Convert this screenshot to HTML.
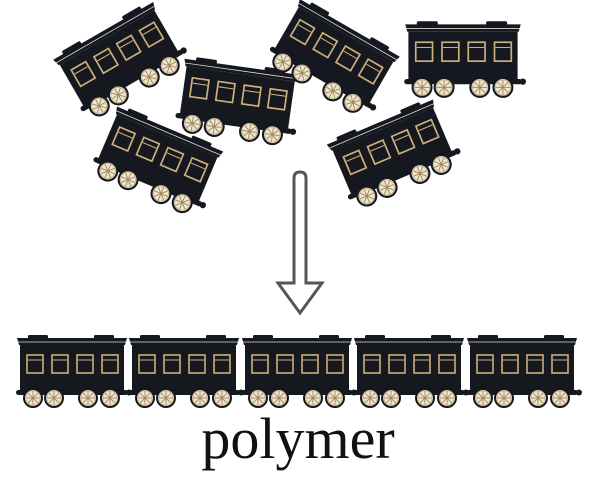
<!DOCTYPE html>
<html><head><style>html,body{margin:0;padding:0;background:#fff}svg{display:block}</style></head><body>
<svg width="600" height="479" viewBox="0 0 600 479" xmlns="http://www.w3.org/2000/svg">
<defs>
<g id="wh">
<circle r="9" fill="#efe6d0" stroke="#15181e" stroke-width="2"/>
<g stroke="#a08660" stroke-width="0.9">
<line x1="-7.5" y1="0" x2="7.5" y2="0"/><line x1="0" y1="-7.5" x2="0" y2="7.5"/>
<line x1="-5.3" y1="-5.3" x2="5.3" y2="5.3"/><line x1="-5.3" y1="5.3" x2="5.3" y2="-5.3"/>
</g>
<circle r="7.2" fill="none" stroke="#c9b085" stroke-width="0.8"/>
</g>
<g id="win"><rect x="0" y="0" width="16" height="18" fill="none" stroke="#cdb07c" stroke-width="1.6"/><line x1="1" y1="5" x2="15" y2="5" stroke="#cdb07c" stroke-width="1"/></g>
<g id="car">
<rect x="12" y="0" width="20" height="4" rx="1.5" fill="#15181e"/>
<rect x="78" y="0" width="20" height="4" rx="1.5" fill="#15181e"/>
<path d="M1 3 L111 3 L109 10 L3 10 Z" fill="#15181e"/>
<line x1="2" y1="7" x2="110" y2="7" stroke="#d8d8d8" stroke-width="0.8"/>
<rect x="4" y="10" width="104" height="48" fill="#15181e"/>
<use href="#win" x="11" y="20"/><use href="#win" x="36" y="20"/><use href="#win" x="61" y="20"/><use href="#win" x="86" y="20"/>
<rect x="0" y="55" width="112" height="5" rx="2.5" fill="#15181e"/>
<circle cx="113" cy="57.5" r="3" fill="#15181e"/>
<use href="#wh" x="17" y="63"/><use href="#wh" x="38" y="63"/><use href="#wh" x="72" y="63"/><use href="#wh" x="94" y="63"/>
</g>
</defs>
<g transform="translate(120,60) rotate(-30) scale(1.05) translate(-56,-35)"><use href="#car"/></g>
<g transform="translate(237,100) rotate(8) scale(1.05) translate(-56,-35)"><use href="#car"/></g>
<g transform="translate(157,160) rotate(23) scale(1.05) translate(-56,-35)"><use href="#car"/></g>
<g transform="translate(333,57) rotate(30) scale(1.05) translate(-56,-35)"><use href="#car"/></g>
<g transform="translate(463,58) scale(1.05) translate(-56,-35)"><use href="#car"/></g>
<g transform="translate(393,153) rotate(-23) scale(1.05) translate(-56,-35)"><use href="#car"/></g>
<path d="M294 178 Q294 172 300 172 Q306 172 306 178 L306 283 L322 283 L300 313 L278 283 L294 283 Z" fill="#fff" stroke="#555" stroke-width="3" stroke-linejoin="miter"/>
<g transform="translate(16,335)"><use href="#car"/></g>
<g transform="translate(128,335)"><use href="#car"/></g>
<g transform="translate(241,335)"><use href="#car"/></g>
<g transform="translate(353,335)"><use href="#car"/></g>
<g transform="translate(466,335)"><use href="#car"/></g>
<text x="298" y="458" text-anchor="middle" font-family="Liberation Serif, serif" font-size="58" fill="#111">polymer</text>
</svg>
</body></html>
